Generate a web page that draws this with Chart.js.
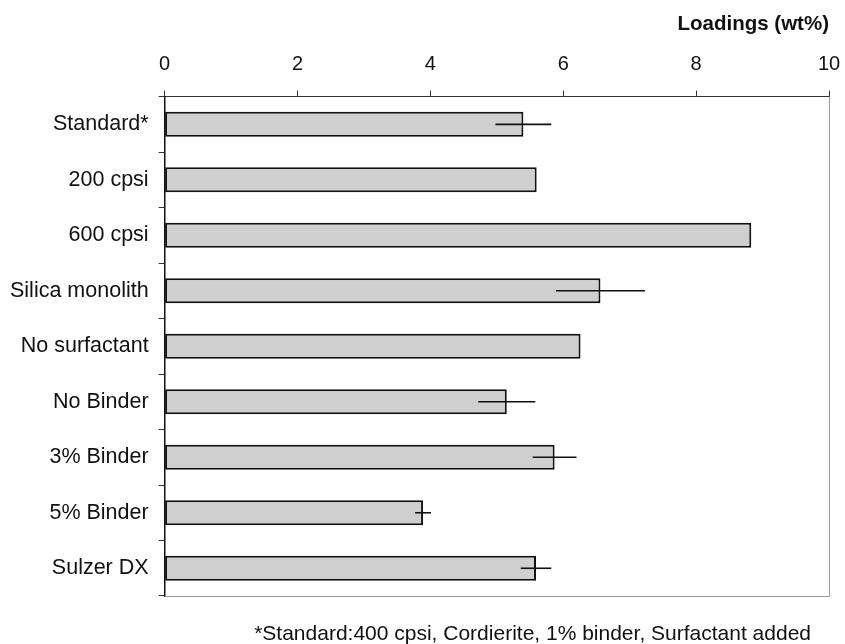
<!DOCTYPE html>
<html>
<head>
<meta charset="utf-8">
<script src="https://cdn.jsdelivr.net/npm/chart.js@4.4.1/dist/chart.umd.min.js"></script>
<style>
  html, body { margin: 0; padding: 0; background: #ffffff; }
  #wrap { width: 845px; height: 644px; }
</style>
</head>
<body>
<div id="wrap"><canvas id="c" width="845" height="644"></canvas></div>
<script>
// Monolith coating loadings by preparation route
const categories = ['Standard*', '200 cpsi', '600 cpsi', 'Silica monolith', 'No surfactant',
                    'No Binder', '3% Binder', '5% Binder', 'Sulzer DX'];
const loadings   = [5.40, 5.60, 8.83, 6.56, 6.26, 5.15, 5.87, 3.89, 5.59];
// half-width of the error bar (wt%); 0 where no bar is drawn
const errors     = [0.42, 0, 0, 0.67, 0, 0.43, 0.33, 0.12, 0.23];
const xTicks     = [0, 2, 4, 6, 8, 10];
const axisTitle  = 'Loadings (wt%)';
const footnote   = '*Standard:400 cpsi, Cordierite, 1% binder, Surfactant added';

const FONT = "'Liberation Sans', Arial, Helvetica, sans-serif";

// horizontal error bars centred on each bar end
const errorBars = {
  id: 'errorBars',
  afterDatasetsDraw(chart) {
    const ctx = chart.ctx;
    const xs = chart.scales.x, ys = chart.scales.y;
    ctx.save();
    ctx.strokeStyle = '#111';
    ctx.lineWidth = 1.6;
    loadings.forEach((v, i) => {
      const e = errors[i];
      if (!e) return;
      const y = ys.getPixelForValue(i);
      ctx.beginPath();
      ctx.moveTo(xs.getPixelForValue(v - e), y);
      ctx.lineTo(xs.getPixelForValue(v + e), y);
      ctx.stroke();
    });
    ctx.restore();
  }
};

// light frame on the right and bottom of the plot area
const frame = {
  id: 'frame',
  beforeDatasetsDraw(chart) {
    const a = chart.chartArea, ctx = chart.ctx;
    ctx.save();
    ctx.strokeStyle = '#9a9a9a';
    ctx.lineWidth = 1;
    ctx.beginPath();
    ctx.moveTo(a.left, a.bottom + 0.5);
    ctx.lineTo(a.right + 0.5, a.bottom + 0.5);
    ctx.lineTo(a.right + 0.5, a.top);
    ctx.stroke();
    ctx.restore();
  }
};

// footnote under the plot, right-aligned a little inside the frame
const footnotePlugin = {
  id: 'footnote',
  afterDraw(chart) {
    const a = chart.chartArea, ctx = chart.ctx;
    ctx.save();
    ctx.fillStyle = '#111';
    ctx.font = '21px ' + FONT;
    ctx.textAlign = 'right';
    ctx.textBaseline = 'alphabetic';
    ctx.fillText(footnote, a.right - 18, a.bottom + 44);
    ctx.restore();
  }
};

new Chart(document.getElementById('c'), {
  type: 'bar',
  data: {
    labels: categories,
    datasets: [{
      data: loadings,
      backgroundColor: '#cfcfcf',
      borderColor: '#111',
      borderWidth: 2,
      borderSkipped: false,
      categoryPercentage: 1.0,
      barPercentage: 0.45
    }]
  },
  options: {
    indexAxis: 'y',
    responsive: false,
    animation: false,
    layout: { padding: { left: 0, right: 16, top: 8, bottom: 48 } },
    plugins: {
      legend: { display: false },
      tooltip: { enabled: false },
      title: { display: false }
    },
    scales: {
      x: {
        position: 'top',
        min: 0,
        max: 10,
        afterBuildTicks(scale) { scale.ticks = xTicks.map(v => ({ value: v })); },
        // end labels may overhang the plot edges; the outer padding covers them
        afterFit(scale) { scale.paddingLeft = 0; scale.paddingRight = 0; },
        ticks: {
          color: '#111',
          font: { family: FONT, size: 20 },
          padding: 14
        },
        grid: { drawOnChartArea: false, tickLength: 6, color: '#333', lineWidth: 1 },
        border: { color: '#333', width: 1 },
        title: {
          display: true,
          text: axisTitle,
          align: 'end',
          color: '#111',
          font: { family: FONT, size: 20.5, weight: 'bold' },
          padding: { top: 4, bottom: 2 }
        }
      },
      y: {
        offset: true,
        ticks: {
          color: '#111',
          font: { family: FONT, size: 21.5 },
          padding: 10
        },
        grid: { offset: true, drawOnChartArea: false, tickLength: 6, color: '#333', lineWidth: 1 },
        border: { color: '#111', width: 1.5 }
      }
    }
  },
  plugins: [frame, errorBars, footnotePlugin]
});
</script>
</body>
</html>
